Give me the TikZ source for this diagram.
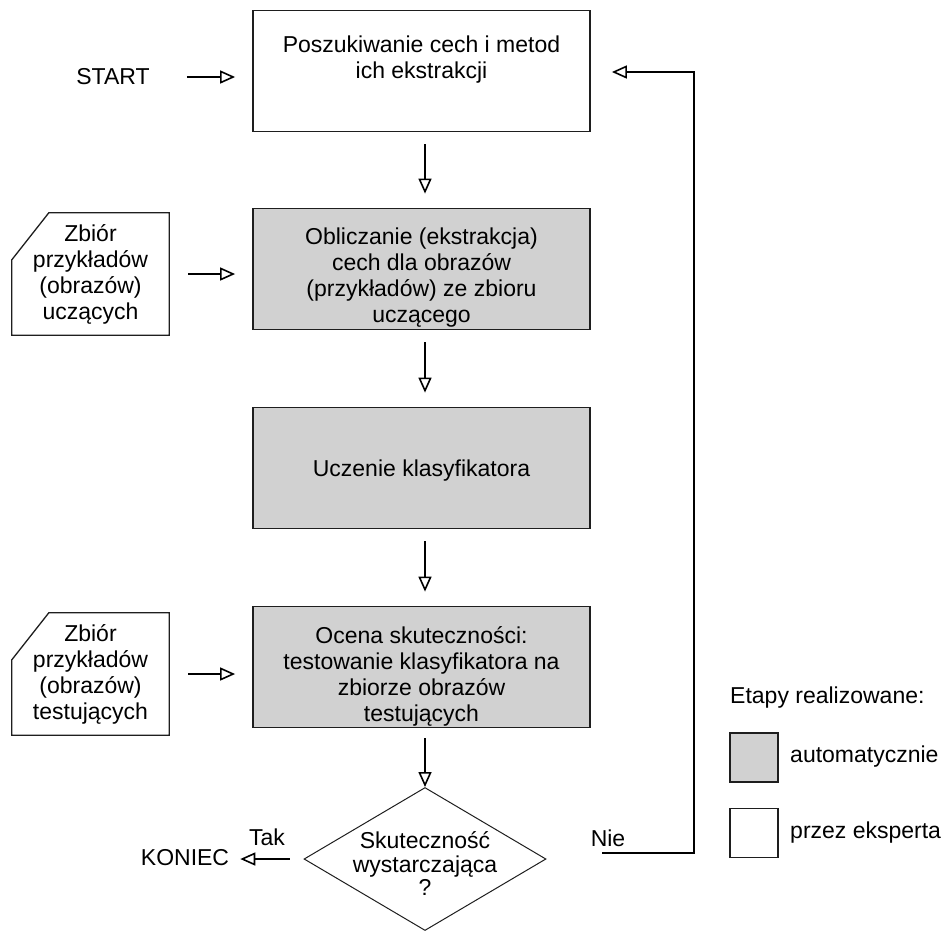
\documentclass[tikz,border=0pt]{standalone}
\usepackage{fontspec}
\setmainfont{Liberation Sans}
\usetikzlibrary{arrows.meta,shapes.geometric,calc}
\definecolor{stepgray}{RGB}{209,209,209}
\definecolor{edge}{RGB}{30,30,30}
\begin{document}
\begin{tikzpicture}[x=1pt,y=-1pt,
  every node/.style={font=\fontsize{23}{26}\selectfont, inner sep=0pt},
  txt/.style={align=center},
  stage/.style={draw=edge, line width=1.8pt, minimum width=337pt, minimum height=121pt},
  autostage/.style={stage, fill=stepgray},
  docline/.style={draw=edge, line width=1.3pt, line join=miter},
  flow/.style={line width=1.4pt, -{Triangle[open, length=15pt, width=13pt, line width=1.6pt]}},
]
\useasboundingbox (0,0) rectangle (949,930);

% main chain of stages
\node[stage] (b1) at (421.5,71) {};
\node[txt, anchor=north] (b1t) at ([yshift=-26pt]b1.north) {Poszukiwanie cech i metod\\ich ekstrakcji};

\node[autostage] (b2) at (421.5,269) {};
\node[txt, anchor=north] (b2t) at ([yshift=-20pt]b2.north) {Obliczanie (ekstrakcja)\\cech dla obrazów\\(przykładów) ze zbioru\\uczącego};

\node[autostage] (b3) at (421.5,468) {};
\node[txt] (b3t) at ([yshift=-3pt]b3.center) {Uczenie klasyfikatora};

\node[autostage] (b4) at (421.5,667) {};
\node[txt, anchor=north] (b4t) at ([yshift=-21pt]b4.north) {Ocena skuteczności:\\testowanie klasyfikatora na\\zbiorze obrazów\\testujących};

% decision
\node[diamond, draw=edge, line width=1pt, minimum width=242pt, minimum height=143pt] (dec) at (425,859) {};
\node[txt, font=\fontsize{23}{23.5}\selectfont] (dect) at (425,864) {Skuteczność\\wystarczająca\\?};

% input data sets
\node[txt, minimum width=157pt, minimum height=122pt] (d1) at (90.5,274) {Zbiór\\przykładów\\(obrazów)\\uczących};
\draw[docline] (d1.south west) -- ([yshift=-47pt]d1.north west) -- ([xshift=37pt]d1.north west) -- (d1.north east) -- (d1.south east) -- cycle;

\node[txt, minimum width=157pt, minimum height=122pt] (d2) at (90.5,674) {Zbiór\\przykładów\\(obrazów)\\testujących};
\draw[docline] (d2.south west) -- ([yshift=-47pt]d2.north west) -- ([xshift=37pt]d2.north west) -- (d2.north east) -- (d2.south east) -- cycle;

% terminals and branch labels
\node (start) at (113,77) {START};
\node (koniec) at (185,858) {KONIEC};
\node (tak) at (267,837) {Tak};
\node (nie) at (608,838) {Nie};

% connectors (vertical ones aligned with the decision's axis)
\draw[flow, shorten <=37pt, shorten >=17pt] (start.east) -- (start.east -| b1.west);
\draw[flow] ([yshift=-12pt]b1.south -| dec.north) -- ([yshift=14pt]b2.north -| dec.north);
\draw[flow] ([yshift=-12pt]b2.south -| dec.north) -- ([yshift=14pt]b3.north -| dec.north);
\draw[flow] ([yshift=-12pt]b3.south -| dec.north) -- ([yshift=14pt]b4.north -| dec.north);
\draw[flow] ([yshift=-10pt]b4.south -| dec.north) -- (dec.north);
\draw[flow, shorten <=19pt, shorten >=17pt] (d1.east) -- (d1.east -| b2.west);
\draw[flow, shorten <=19pt, shorten >=17pt] (d2.east) -- (d2.east -| b4.west);
\draw[flow, shorten <=14pt, shorten >=11pt] (dec.west) -- (dec.west -| koniec.east);

\coordinate (nieStart) at (602,853);
\coordinate (fb) at (694,72);
\draw[flow] (nieStart) -| (fb) -- ([xshift=21pt]b1.east |- fb);

% legend
\node[anchor=west] (legtitle) at (730,698) {Etapy realizowane:};
\node[draw=edge, line width=1.3pt, fill=stepgray, minimum width=48pt, minimum height=49pt] (legA) at (754,757.5) {};
\node[anchor=west] (legAt) at (790,757) {automatycznie};
\node[draw=edge, line width=1.3pt, fill=white, minimum width=48pt, minimum height=49pt] (legB) at (754,833) {};
\node[anchor=west] (legBt) at (790,833) {przez eksperta};
\end{tikzpicture}
\end{document}
